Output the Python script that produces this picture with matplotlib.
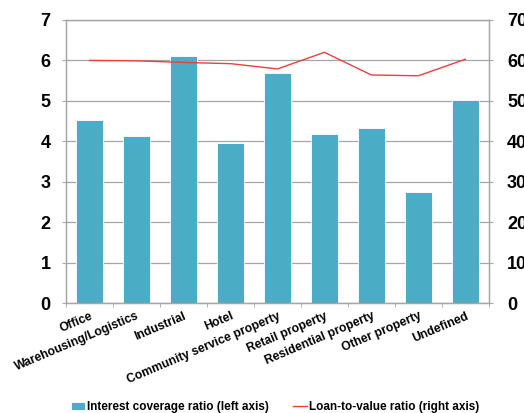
import matplotlib
matplotlib.use("Agg")
import matplotlib.pyplot as plt
import numpy as np

categories = ["Office", "Warehousing/Logistics", "Industrial", "Hotel",
              "Community service property", "Retail property",
              "Residential property", "Other property", "Undefined"]
icr = [4.53, 4.12, 6.10, 3.95, 5.69, 4.18, 4.32, 2.75, 5.01]
ltv = [60.0, 59.9, 59.5, 59.2, 57.9, 62.0, 56.4, 56.2, 60.3]
left_ticks = [0, 1, 2, 3, 4, 5, 6, 7]
right_ticks = [0, 10, 20, 30, 40, 50, 60, 70]

plt.rcParams['font.family'] = ['Liberation Sans', 'DejaVu Sans']
bar_color = "#4BACC6"
line_color = "#E8403F"
grid_color = "#A6A6A6"

fig = plt.figure(figsize=(5.24, 4.13), dpi=100)
ax = fig.add_axes([0.126, 0.2663, 0.807, 0.6853])
x = np.arange(len(categories))
bars = ax.bar(x, icr, width=0.56, color=bar_color, edgecolor="white", linewidth=0.6,
              label="Interest coverage ratio (left axis)", zorder=2)
ax.set_ylim(0, 7)
ax.set_xlim(-0.5, len(categories) - 0.5)
ax.set_yticks(left_ticks)
ax.set_yticklabels([str(t) for t in left_ticks], fontsize=13, fontweight="bold")
ax.yaxis.grid(True, color=grid_color, linewidth=0.9, zorder=0)
ax.set_axisbelow(True)
ax.set_xticks(x)
ax.set_xticklabels(categories, rotation=23, ha="right", rotation_mode="anchor",
                   fontsize=8.7, fontweight="bold")
ax.tick_params(axis="x", length=0, pad=5)
ax.set_xticks(np.arange(-0.5, len(categories)), minor=True)
ax.tick_params(axis="x", which="minor", length=3, color=grid_color)
ax.tick_params(axis="y", length=3, color=grid_color, pad=8)
for s in ax.spines.values():
    s.set_color(grid_color)
    s.set_linewidth(0.9)

ax2 = ax.twinx()
line, = ax2.plot(x, ltv, color=line_color, linewidth=1.0,
                 label="Loan-to-value ratio (right axis)")
ax2.set_ylim(0, 70)
ax2.set_yticks(right_ticks)
ax2.set_yticklabels([str(t) for t in right_ticks], fontsize=13, fontweight="bold")
ax2.tick_params(axis="y", length=3, color=grid_color, pad=10)
for s in ax2.spines.values():
    s.set_color(grid_color)
    s.set_linewidth(0.9)

fig.legend([bars, line], ["Interest coverage ratio (left axis)", "Loan-to-value ratio (right axis)"],
           loc="center", bbox_to_anchor=(0.525, 0.014), ncol=2, frameon=False,
           prop={"size": 8.5, "weight": "bold"}, handlelength=1.2, handletextpad=0.2,
           columnspacing=2.0)

fig.savefig("out.png", dpi=100)
